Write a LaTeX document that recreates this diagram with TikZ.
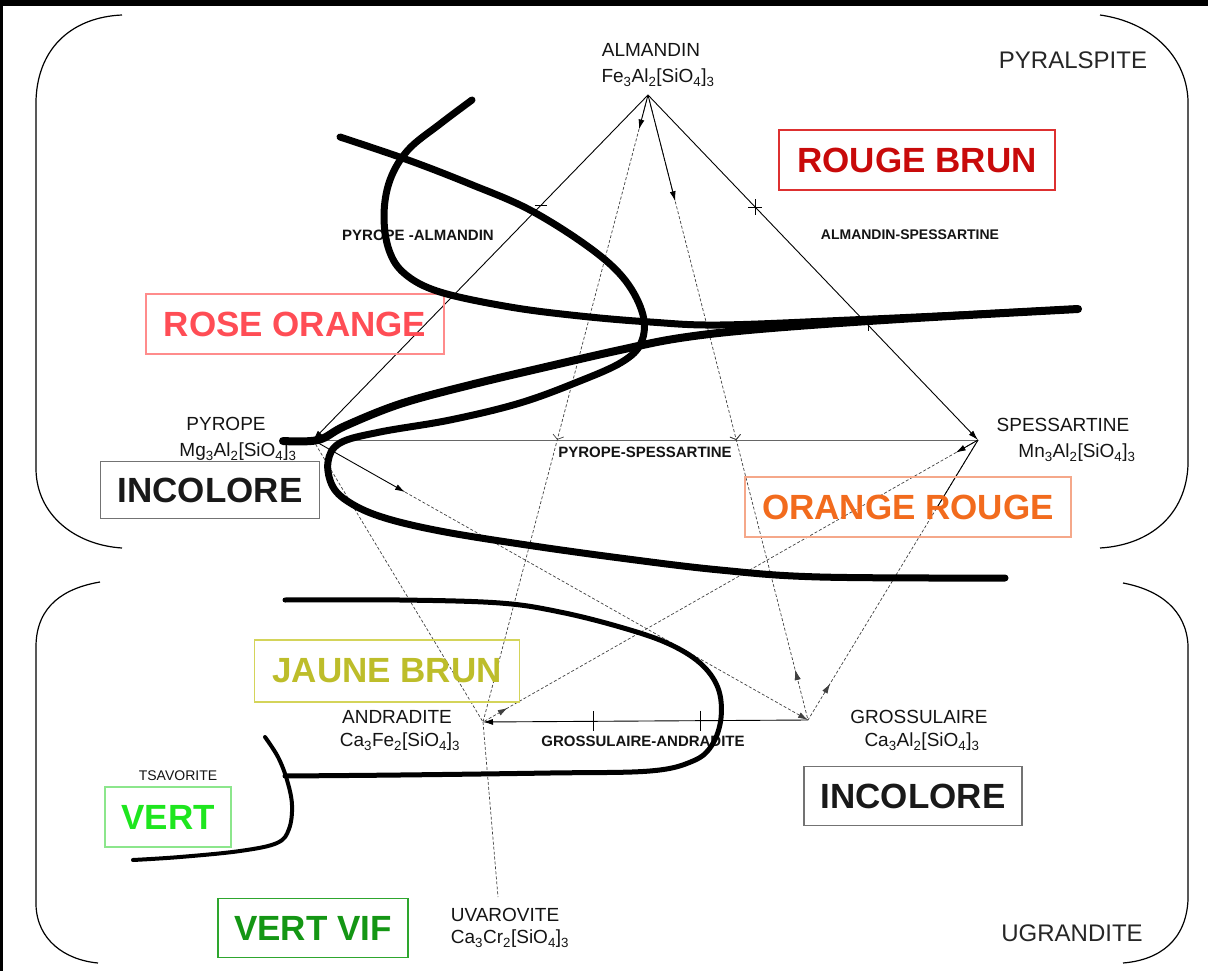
\documentclass[tikz,border=0pt]{standalone}
\usepackage{fontspec}
\setmainfont{Liberation Sans}
\usetikzlibrary{arrows.meta,decorations.markings,calc}
\usepackage{xcolor}

\definecolor{rbText}{HTML}{C80A0A}
\definecolor{rbLine}{HTML}{DD3030}
\definecolor{roText}{HTML}{FF4D55}
\definecolor{roLine}{HTML}{FF8C8C}
\definecolor{orText}{HTML}{F26B1D}
\definecolor{orLine}{HTML}{F5A88A}
\definecolor{jbText}{HTML}{BDBD2A}
\definecolor{jbLine}{HTML}{D4D45A}
\definecolor{vtText}{HTML}{1EE61E}
\definecolor{vtLine}{HTML}{8CE68C}
\definecolor{vvText}{HTML}{149614}
\definecolor{vvLine}{HTML}{2EA62E}

\begin{document}
\begin{tikzpicture}[x=1pt,y=-1pt,
    colorbox/.style={draw=#1, line width=1.4pt, inner sep=0pt,
        font=\fontsize{35}{36}\selectfont\bfseries},
    mineral/.style={inner sep=0pt, text=black!92, font=\fontsize{19}{20}\selectfont},
    serie/.style={inner sep=0pt, text=black!92, font=\fontsize{15}{16}\selectfont\bfseries},
    family/.style={inner sep=0pt, text=black!85, font=\fontsize{24}{25}\selectfont},
    link/.style={line width=0.9pt},
    dotlink/.style={line width=0.7pt, black!75, dash pattern=on 3pt off 2pt},
    tip/.style={-{Latex[length=10pt,width=6pt]}},
    vmark/.style={postaction={decorate}, decoration={markings,
        mark=at position #1 with {\arrow{Straight Barb[length=4pt,width=11pt]}}}},
    backtip/.style={postaction={decorate}, decoration={markings,
        mark=at position #1 with {\arrowreversed{Latex[length=10pt,width=6pt]}}}},
    bracket/.style={line width=1.2pt},
    boundary/.style={line width=#1, line cap=round, line join=round}
]
    \useasboundingbox (0,0) rectangle (1208,971);
    \fill[black] (0,0) rectangle (1208,6);
    \fill[black] (0,0) rectangle (3,971);

    % the two families
    \draw[bracket] (122,15) .. controls (75,17) and (38,45) .. (36,100) -- (36,470) .. controls (37,515) and (75,545) .. (122,548);
    \draw[bracket] (1100,15) .. controls (1150,22) and (1186,55) .. (1188,100) -- (1188,465) .. controls (1186,515) and (1150,545) .. (1100,548);
    \draw[bracket] (100,582) .. controls (65,588) and (37,605) .. (36,645) -- (36,905) .. controls (37,940) and (65,960) .. (98,963);
    \draw[bracket] (1123,583) .. controls (1160,590) and (1186,610) .. (1188,645) -- (1188,900) .. controls (1186,940) and (1160,960) .. (1123,963);
    \node[family] (pyral) at (1073,60) {PYRALSPITE};
    \node[family] (ugran) at (1072,933) {UGRANDITE};

    % end members
    \coordinate (alm) at (648,95);
    \coordinate (pyr) at (313,440);
    \coordinate (spe) at (978,440);
    \coordinate (and) at (483,722);
    \coordinate (gro) at (808,720);
    \coordinate (uva) at (498,897);

    % series
    \draw[link, black!60] (pyr) -- (spe);
    \draw[link, tip] (alm) -- (pyr);
    \draw[link, tip] (alm) -- (spe);
    \draw[link] ($(alm)!0.32!(pyr)+(-6,0)$) -- ($(alm)!0.32!(pyr)+(6,0)$);
    \draw[link] ($(alm)!0.325!(spe)+(-7,0)$) -- ($(alm)!0.325!(spe)+(7,0)$);
    \draw[link] ($(alm)!0.325!(spe)+(0,-8)$) -- ($(alm)!0.325!(spe)+(0,8)$);
    \draw[link] ($(alm)!0.667!(spe)+(0,-6)$) -- ($(alm)!0.667!(spe)+(0,6)$);

    \draw[dotlink, vmark=0.55] (alm) -- (and);
    \draw[link, tip] (alm) -- ($(alm)!0.055!(and)$);
    \draw[dotlink, vmark=0.552, backtip=0.92] (alm) -- (gro);
    \draw[link, tip] (alm) -- ($(alm)!0.17!(gro)$);

    \draw[link, tip] (pyr) -- ($(pyr)!0.186!(gro)$);
    \draw[dotlink, tip] ($(pyr)!0.186!(gro)$) -- (gro);
    \draw[dotlink] (pyr) -- (and);

    \draw[dotlink, backtip=0.95] (spe) -- (and);
    \draw[link, tip] (spe) -- ($(spe)!0.045!(and)$);
    \draw[dotlink, backtip=0.87] (spe) -- (gro);
    \draw[link] (spe) -- ($(spe)!0.24!(gro)$);

    \draw[link, tip] (gro) -- (and);
    \draw[link] ($(gro)!0.33!(and)+(0,-10)$) -- ($(gro)!0.33!(and)+(0,10)$);
    \draw[link] ($(gro)!0.66!(and)+(0,-10)$) -- ($(gro)!0.66!(and)+(0,10)$);
    \draw[dotlink] (and) -- (uva);

    % colours
    \node[colorbox=rbLine, text=rbText, minimum width=276, minimum height=60] (rougebrun) at (917,160) {ROUGE BRUN};
    \node[colorbox=roLine, text=roText, minimum width=298, minimum height=60] (roseorange) at (295,324) {ROSE ORANGE};
    \node[colorbox=black!55, text=black!90, minimum width=219, minimum height=57] (incolore) at (210,490) {INCOLORE};
    \node[colorbox=orLine, text=orText, minimum width=326, minimum height=60] (orangerouge) at (908,507) {ORANGE ROUGE};
    \node[colorbox=jbLine, text=jbText, minimum width=265, minimum height=62] (jaunebrun) at (387,671) {JAUNE BRUN};
    \node[colorbox=black!55, text=black!90, minimum width=218, minimum height=59] (incoloregro) at (913,796) {INCOLORE};
    \node[colorbox=vtLine, text=vtText, minimum width=126, minimum height=60] (vert) at (168,817) {VERT};
    \node[colorbox=vvLine, text=vvText, minimum width=190, minimum height=59] (vertvif) at (313,928) {VERT VIF};

    % names
    \node[mineral] (almname) at (651,50) {ALMANDIN};
    \node[mineral] (almform) at (658,78) {Fe\textsubscript{3}Al\textsubscript{2}[SiO\textsubscript{4}]\textsubscript{3}};
    \node[mineral] (pyrname) at (226,424) {PYROPE};
    \node[mineral] (pyrform) at (238,452) {Mg\textsubscript{3}Al\textsubscript{2}[SiO\textsubscript{4}]\textsubscript{3}};
    \node[mineral] (spename) at (1063,425) {SPESSARTINE};
    \node[mineral] (speform) at (1077,453) {Mn\textsubscript{3}Al\textsubscript{2}[SiO\textsubscript{4}]\textsubscript{3}};
    \node[mineral] (andname) at (397,717) {ANDRADITE};
    \node[mineral] (andform) at (400,742) {Ca\textsubscript{3}Fe\textsubscript{2}[SiO\textsubscript{4}]\textsubscript{3}};
    \node[mineral] (groname) at (919,717) {GROSSULAIRE};
    \node[mineral] (groform) at (922,742) {Ca\textsubscript{3}Al\textsubscript{2}[SiO\textsubscript{4}]\textsubscript{3}};
    \node[mineral] (uvaname) at (505,915) {UVAROVITE};
    \node[mineral] (uvaform) at (510,939) {Ca\textsubscript{3}Cr\textsubscript{2}[SiO\textsubscript{4}]\textsubscript{3}};
    \node[serie, font=\fontsize{14}{15}\selectfont] (tsavo) at (178,776) {TSAVORITE};
    \node[serie] (pyralm) at (418,235) {PYROPE -ALMANDIN};
    \node[serie, font=\fontsize{14}{15}\selectfont\bfseries] (almspe) at (910,235) {ALMANDIN-SPESSARTINE};
    \node[serie] (pyrspe) at (645,452) {PYROPE-SPESSARTINE};
    \node[serie] (groand) at (643,741) {GROSSULAIRE-ANDRADITE};

    % colour limits
    \draw[boundary=7pt] plot[smooth, tension=0.6] coordinates {(472,100) (440,124) (408,150) (390,180) (384,215) (389,250) (405,274) (440,292) (510,307) (580,316) (650,322) (720,325) (850,320) (1000,313) (1078,309)};
    \draw[boundary=8pt] plot[smooth, tension=0.6] coordinates {(283,441) (318,440) (345,426) (400,404) (470,385) (550,366) (620,350) (680,338) (760,329) (900,319) (1078,309)};
    \draw[boundary=7pt] plot[smooth, tension=0.6] coordinates {(340,137) (408,160) (470,184) (530,210) (590,248) (625,280) (643,315) (641,343) (622,362) (580,381) (520,403) (450,420) (380,432) (340,443) (328,462) (333,487) (352,504) (385,518) (440,531) (520,544) (620,558) (720,570) (820,577) (1005,578)};
    \draw[boundary=5pt] plot[smooth, tension=0.6] coordinates {(285,600) (400,600) (500,603) (560,612) (620,627) (667,643) (700,663) (718,688) (721,718) (712,745) (693,761) (650,771) (550,773) (400,775) (285,776)};
    \draw[boundary=4pt] plot[smooth, tension=0.6] coordinates {(265,737) (278,757) (287,780) (292,805) (289,829) (277,843) (240,851) (180,857) (133,860)};
\end{tikzpicture}
\end{document}
